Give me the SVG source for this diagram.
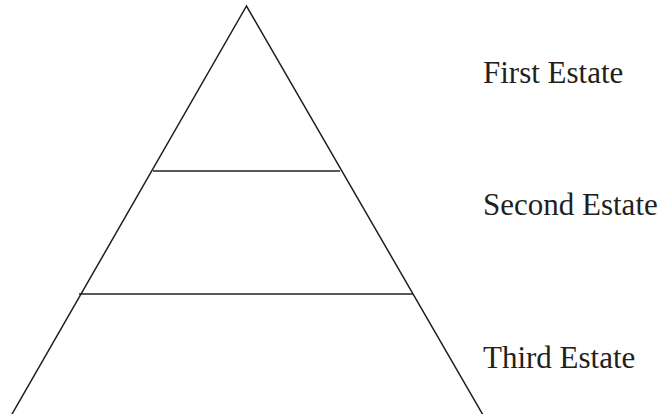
<svg xmlns="http://www.w3.org/2000/svg" width="666" height="414" viewBox="0 0 666 414">
<style>
.ln{stroke:#231f20;stroke-width:1.5;fill:none}
.lbl{font-family:"Liberation Serif","Times New Roman",serif;font-size:31px;fill:#231f20}
</style>
<rect width="666" height="414" fill="#fff"/>
<g id="connectors">
<path class="ln" d="M11.5,415 L246.5,6 L483,415"/>
</g>
<g id="tier1">
<line class="ln" x1="153" y1="171" x2="340" y2="171"/>
<text class="lbl" x="483" y="83">First Estate</text>
</g>
<g id="tier2">
<line class="ln" x1="79" y1="294" x2="413" y2="294"/>
<text class="lbl" x="483" y="215">Second Estate</text>
</g>
<g id="tier3">
<text class="lbl" x="483" y="368">Third Estate</text>
</g>
</svg>
